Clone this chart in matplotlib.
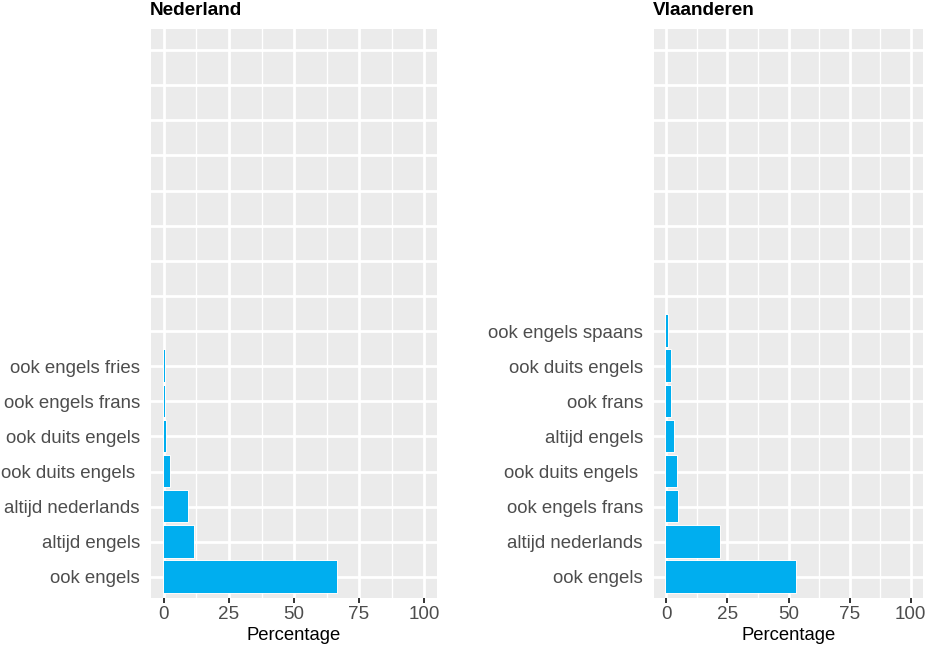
import matplotlib
matplotlib.use("Agg")
import matplotlib.pyplot as plt
import numpy as np

plt.rcParams['font.family'] = ['Liberation Sans', 'DejaVu Sans']

n_slots = 16

nl_categories = ["ook engels", "altijd engels", "altijd nederlands", "ook duits engels ",
                 "ook duits engels", "ook engels frans", "ook engels fries"]
nl_values = [66.7, 11.6, 9.4, 2.3, 0.6, 0.5, 0.5]

vl_categories = ["ook engels", "altijd nederlands", "ook engels frans", "ook duits engels ",
                 "altijd engels", "ook frans", "ook duits engels", "ook engels spaans"]
vl_values = [52.9, 22.0, 4.9, 4.5, 3.3, 2.0, 1.8, 0.9]

x_ticks = [0, 25, 50, 75, 100]
titles = ["Nederland", "Vlaanderen"]

BAR = '#00AEEF'
PANEL = '#EBEBEB'
W, H = 928, 658
fig = plt.figure(figsize=(W / 100, H / 100), dpi=100)

def add_panel(rect, cats, vals, title):
    ax = fig.add_axes(rect)
    ax.set_facecolor(PANEL)
    pos = np.arange(1, len(cats) + 1)
    ax.barh(pos, vals, height=0.9, color='white', edgecolor='white', linewidth=1.2, zorder=3)
    ax.barh(pos, vals, height=0.9, color=BAR, linewidth=0, zorder=4)
    ax.set_xlim(-5, 105)
    ax.set_ylim(0.4, n_slots + 0.6)
    labels = list(cats) + [""] * (n_slots - len(cats))
    ax.set_yticks(np.arange(1, n_slots + 1))
    ax.set_yticklabels(labels)
    ax.set_xticks(x_ticks)
    ax.set_xticks([12.5, 37.5, 62.5, 87.5], minor=True)
    ax.grid(which='major', color='white', linewidth=2.0, zorder=1)
    ax.grid(which='minor', axis='x', color='white', linewidth=1.0, zorder=1)
    ax.set_axisbelow(True)
    for s in ax.spines.values():
        s.set_visible(False)
    ax.tick_params(axis='y', length=0, pad=8, labelsize=13.4, labelcolor='#4D4D4D')
    ax.tick_params(axis='x', which='major', length=3.5, width=1.4, color='#333333', pad=2,
                   labelsize=13.6, labelcolor='#4D4D4D')
    ax.tick_params(axis='x', which='minor', length=0)
    ax.set_xlabel("Percentage", fontsize=13.3, color='black', labelpad=3)
    ax.set_title(title, loc='left', fontsize=13.6, fontweight='bold', pad=10, x=-0.005)
    return ax

add_panel([151 / W, 1 - 598 / H, 286 / W, 569 / H], nl_categories, nl_values, titles[0])
add_panel([654 / W, 1 - 598 / H, 269 / W, 569 / H], vl_categories, vl_values, titles[1])

fig.savefig("out.png", dpi=100)
